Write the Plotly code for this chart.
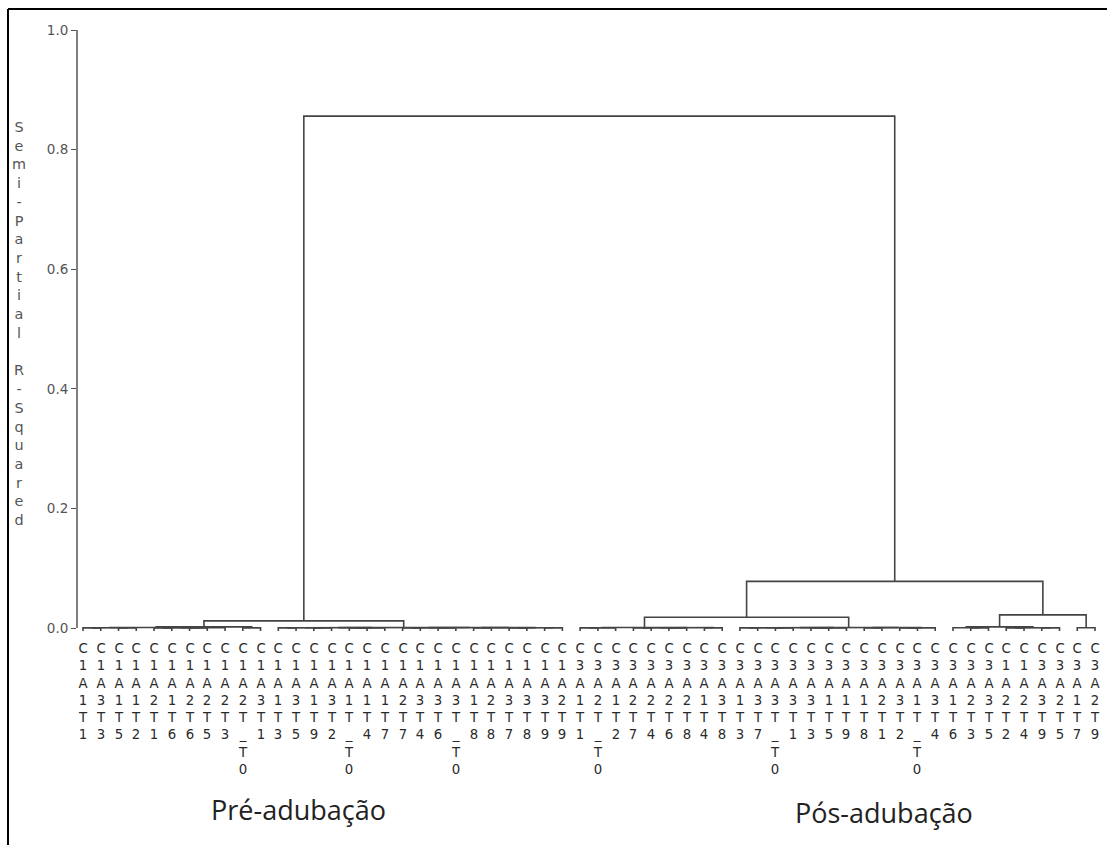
import plotly.graph_objects as go

# ---------------- data ----------------
# leaf labels (each character is drawn on its own row, as in the reference)
LEAF_LABELS = [
    "C1A1T1", "C1A3T3", "C1A1T5", "C1A1T2", "C1A2T1", "C1A1T6", "C1A2T6", "C1A2T5",
    "C1A2T3", "C1A2T_T0", "C1A3T1", "C1A1T3", "C1A3T5", "C1A1T9", "C1A3T2", "C1A1T_T0",
    "C1A1T4", "C1A1T7", "C1A2T7", "C1A3T4", "C1A3T6", "C1A3T_T0", "C1A1T8", "C1A2T8",
    "C1A3T7", "C1A3T8", "C1A3T9", "C1A2T9",
    "C3A1T1", "C3A2T_T0", "C3A1T2", "C3A2T7", "C3A2T4", "C3A2T6", "C3A2T8", "C3A1T4",
    "C3A3T8", "C3A1T3", "C3A3T7", "C3A3T_T0", "C3A3T1", "C3A3T3", "C3A1T5", "C3A1T9",
    "C3A1T8", "C3A2T1", "C3A3T2", "C3A1T_T0", "C3A3T4", "C3A1T6", "C3A2T3", "C3A3T5",
    "C1A2T2", "C1A2T4", "C3A3T9", "C3A2T5", "C3A1T7", "C3A2T9",
]

# linkage: leaves are nodes 0..57; merge k creates node 58 + k
#                 58   59   60   61   62   63   64   65   66   67
MERGE_LEFT = [     0,   2,  58,   4,   6,  61,  63,  60,   9,  65,
              #   68   69   70   71   72   73   74   75   76   77
                  11,  13,  68,  15,  71,  70,  18,  20,  74,  22,
              #   78   79   80   81   82   83   84   85   86   87
                  24,  26,  78,  77,  76,  73,  67,  28,  85,  31,
              #   88   89   90   91   92   93   94   95   96   97
                  33,  35,  87,  90,  86,  37,  39,  93,  41,  96,
              #   98   99  100  101  102  103  104  105  106  107
                  95,  44,  46, 100,  99,  98,  92,  50,  49,  52,
              #  108  109  110  111  112  113  114
                  54, 107, 106,  56, 110, 104,  84]
MERGE_RIGHT = [    1,   3,  59,   5,   7,  62,   8,  64,  10,  66,
                  12,  14,  69,  16,  17,  72,  19,  21,  75,  23,
                  25,  27,  79,  80,  81,  82,  83,  29,  30,  32,
                  34,  36,  88,  89,  91,  38,  40,  94,  42,  43,
                  97,  45,  47,  48, 101, 102, 103,  51, 105,  53,
                  55, 108, 109,  57, 111, 112, 113]
MERGE_HEIGHT = [0.0002, 0.0002, 0.0004, 0.0002, 0.0002, 0.0004, 0.0006, 0.0008, 0.0003, 0.002,
                0.0002, 0.0002, 0.0004, 0.0002, 0.0004, 0.0006, 0.0002, 0.0002, 0.0004, 0.0002,
                0.0002, 0.0002, 0.0004, 0.0006, 0.0007, 0.0008, 0.012, 0.0002, 0.0004, 0.0002,
                0.0002, 0.0002, 0.0004, 0.0006, 0.0008, 0.0002, 0.0002, 0.0004, 0.0002, 0.0004,
                0.0006, 0.0002, 0.0002, 0.0004, 0.0006, 0.0008, 0.018, 0.0002, 0.0004, 0.0002,
                0.0002, 0.0004, 0.002, 0.0005, 0.022, 0.078, 0.856]

Y_TICKS = [0.0, 0.2, 0.4, 0.6, 0.8, 1.0]
Y_TITLE = "Semi-Partial R-Squared"
GROUP_LABELS = ["Pré-adubação", "Pós-adubação"]

# ---------------- geometry from the linkage ----------------
LEAF_BASE = -0.005
n = len(LEAF_LABELS)
xpos = {i: float(i) for i in range(n)}
hpos = {i: LEAF_BASE for i in range(n)}
xs, ys = [], []
for k, (a, b, h) in enumerate(zip(MERGE_LEFT, MERGE_RIGHT, MERGE_HEIGHT)):
    node = n + k
    xa, xb = xpos[a], xpos[b]
    xs += [xa, xa, xb, xb, None]
    ys += [hpos[a], h, h, hpos[b], None]
    xpos[node] = (xa + xb) / 2
    hpos[node] = h

LINE_COLOR = "#444444"
fig = go.Figure()
fig.add_trace(go.Scatter(x=xs, y=ys, mode="lines",
                         line=dict(color=LINE_COLOR, width=1.6),
                         hoverinfo="skip", showlegend=False))

# leaf labels, stacked vertically
for i, lab in enumerate(LEAF_LABELS):
    fig.add_annotation(x=i, y=0, xref="x", yref="y", yanchor="top", xanchor="center",
                       yshift=-11, showarrow=False, align="center",
                       text="<br>".join(list(lab)),
                       font=dict(family="DejaVu Sans", size=13.3, color="#2a2a2a"))

# frame / layout pixel helpers
PL, PR, PT, PB = 77, 1100, 30, 637
def px_x(p):
    return (p - PL) / (PR - PL)
def px_y(p):
    return (PB - p) / (PB - PT)

# y axis title, stacked letters
fig.add_annotation(x=px_x(18.5), xref="paper", y=0.51, yref="y", xanchor="center", yanchor="middle",
                   showarrow=False, align="center",
                   text="<br>".join(list(Y_TITLE.replace(" ", "\u00a0"))),
                   font=dict(family="DejaVu Sans", size=14.4, color="#555555"))

# group labels
fig.add_annotation(x=px_x(298), y=px_y(809), xref="paper", yref="paper", showarrow=False,
                   xanchor="center", yanchor="middle", text=GROUP_LABELS[0],
                   font=dict(family="Open Sans", size=27, color="#222222"))
fig.add_annotation(x=px_x(884), y=px_y(812.5), xref="paper", yref="paper", showarrow=False,
                   xanchor="center", yanchor="middle", text=GROUP_LABELS[1],
                   font=dict(family="Open Sans", size=27, color="#222222"))

# y axis line
fig.add_shape(type="line", xref="paper", yref="y", x0=0, x1=0, y0=0, y1=1,
              line=dict(color="#555555", width=1.5))

# outer frame (left and top edges)
fig.add_shape(type="line", xref="paper", yref="paper",
              x0=px_x(8), x1=px_x(8), y0=px_y(9), y1=px_y(850),
              line=dict(color="black", width=2))
fig.add_shape(type="line", xref="paper", yref="paper",
              x0=px_x(8), x1=px_x(1110), y0=px_y(9), y1=px_y(9),
              line=dict(color="black", width=2))

fig.update_layout(
    width=1107, height=845,
    margin=dict(l=PL, r=1107 - PR, t=PT, b=845 - PB),
    paper_bgcolor="white", plot_bgcolor="white",
    showlegend=False,
    xaxis=dict(range=[-0.338, 57.28], visible=False, fixedrange=True),
    yaxis=dict(range=[-0.015, 1.0], tickvals=Y_TICKS,
               ticktext=[f"{v:.1f}" for v in Y_TICKS],
               ticks="outside", ticklen=5, tickcolor="#555555", tickwidth=1.2,
               showgrid=False, zeroline=False, showline=False,
               tickfont=dict(family="DejaVu Sans", size=13.5, color="#555555")),
)

fig.write_html("out.html")
